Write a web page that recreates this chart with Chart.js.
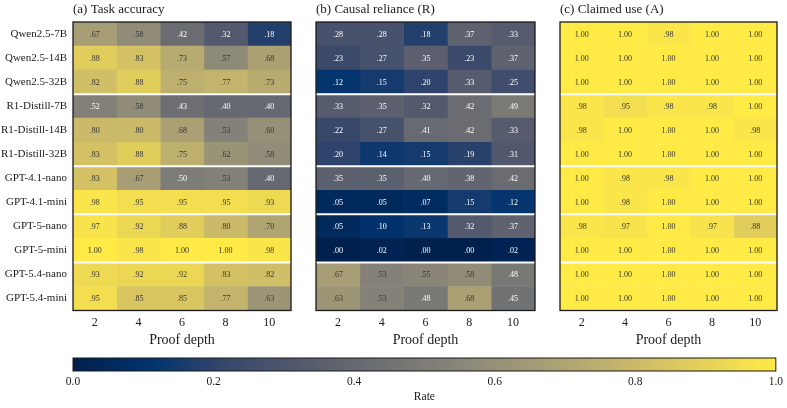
<!DOCTYPE html>
<html>
<head>
<meta charset="utf-8">
<script src="https://cdn.jsdelivr.net/npm/chart.js@4.4.1/dist/chart.umd.min.js"></script>
<style>
  html, body { margin: 0; padding: 0; background: #fff; }
  #wrap { position: relative; width: 787px; height: 408px; }
  #wrap canvas { position: absolute; left: 0; top: 0; }
</style>
</head>
<body>
<div id="wrap">
  <canvas id="accChart" width="787" height="408"></canvas>
  <canvas id="relChart" width="787" height="408"></canvas>
  <canvas id="useChart" width="787" height="408"></canvas>
  <canvas id="barChart" width="787" height="408"></canvas>
</div>
<script>
// data
const models = [
    'Qwen2.5-7B', 'Qwen2.5-14B', 'Qwen2.5-32B',
    'R1-Distill-7B', 'R1-Distill-14B', 'R1-Distill-32B',
    'GPT-4.1-nano', 'GPT-4.1-mini',
    'GPT-5-nano', 'GPT-5-mini',
    'GPT-5.4-nano', 'GPT-5.4-mini'
];
const depths = [2, 4, 6, 8, 10];
// last row index of each model family (white separator below it)
const groupEnds = [2, 5, 7, 9];

const taskAccuracy = [
    [0.67, 0.58, 0.42, 0.32, 0.18],
    [0.88, 0.83, 0.73, 0.57, 0.68],
    [0.82, 0.88, 0.75, 0.77, 0.73],
    [0.52, 0.58, 0.43, 0.40, 0.40],
    [0.80, 0.80, 0.68, 0.53, 0.60],
    [0.83, 0.88, 0.75, 0.62, 0.58],
    [0.83, 0.67, 0.50, 0.53, 0.40],
    [0.98, 0.95, 0.95, 0.95, 0.93],
    [0.97, 0.92, 0.88, 0.80, 0.70],
    [1.00, 0.98, 1.00, 1.00, 0.98],
    [0.93, 0.92, 0.92, 0.83, 0.82],
    [0.95, 0.85, 0.85, 0.77, 0.63]
];
const causalReliance = [
    [0.28, 0.28, 0.18, 0.37, 0.33],
    [0.23, 0.27, 0.35, 0.23, 0.37],
    [0.12, 0.15, 0.20, 0.33, 0.25],
    [0.33, 0.35, 0.32, 0.42, 0.49],
    [0.22, 0.27, 0.41, 0.42, 0.33],
    [0.20, 0.14, 0.15, 0.19, 0.31],
    [0.35, 0.35, 0.40, 0.38, 0.42],
    [0.05, 0.05, 0.07, 0.15, 0.12],
    [0.05, 0.10, 0.13, 0.32, 0.37],
    [0.00, 0.02, 0.00, 0.00, 0.02],
    [0.67, 0.53, 0.55, 0.58, 0.48],
    [0.63, 0.53, 0.48, 0.68, 0.45]
];
const claimedUse = [
    [1.00, 1.00, 0.98, 1.00, 1.00],
    [1.00, 1.00, 1.00, 1.00, 1.00],
    [1.00, 1.00, 1.00, 1.00, 1.00],
    [0.98, 0.95, 0.98, 0.98, 1.00],
    [0.98, 1.00, 1.00, 1.00, 0.98],
    [1.00, 1.00, 1.00, 1.00, 1.00],
    [1.00, 0.98, 0.98, 1.00, 1.00],
    [1.00, 0.98, 1.00, 1.00, 1.00],
    [0.98, 0.97, 1.00, 0.97, 0.88],
    [1.00, 1.00, 1.00, 1.00, 1.00],
    [1.00, 1.00, 1.00, 1.00, 1.00],
    [1.00, 1.00, 1.00, 1.00, 1.00]
];
const rateTicks = [0, 0.2, 0.4, 0.6, 0.8, 1.0];

const SERIF = "'Liberation Serif', 'DejaVu Serif', serif";
const INK = '#1a1a1a';

// cividis colormap stops
const cividisStops = ['#00204D', '#00336F', '#39486B', '#575C6D', '#707173',
    '#8A8779', '#A69D75', '#C4B56C', '#E4CF5B', '#FFEA46'];

function hexToRgb(h) {
    return [parseInt(h.slice(1, 3), 16), parseInt(h.slice(3, 5), 16), parseInt(h.slice(5, 7), 16)];
}

function cividis(t) {
    t = Math.max(0, Math.min(1, t));
    const pos = t * (cividisStops.length - 1);
    const i = Math.min(Math.floor(pos), cividisStops.length - 2);
    const f = pos - i;
    const a = hexToRgb(cividisStops[i]);
    const b = hexToRgb(cividisStops[i + 1]);
    const c = a.map((v, k) => Math.round(v + (b[k] - v) * f));
    return `rgb(${c[0]}, ${c[1]}, ${c[2]})`;
}

function fmt(v) {
    return v >= 1 ? '1.00' : v.toFixed(2).replace(/^0/, '');
}

// cell labels, group separators, frame and panel title
const heatmapDecor = {
    id: 'heatmapDecor',
    afterDatasetsDraw(chart, args, opts) {
        const ctx = chart.ctx;
        const area = chart.chartArea;
        const yScale = chart.scales.y;
        const values = opts.values;

        ctx.save();
        ctx.font = `8px ${SERIF}`;
        ctx.textAlign = 'center';
        ctx.textBaseline = 'middle';
        chart.data.datasets.forEach((ds, col) => {
            chart.getDatasetMeta(col).data.forEach((bar, row) => {
                const v = values[row][col];
                const p = bar.getCenterPoint();
                ctx.fillStyle = v < 0.53 ? '#ffffff' : '#333333';
                ctx.fillText(fmt(v), p.x, p.y + 0.5);
            });
        });

        ctx.strokeStyle = '#ffffff';
        ctx.lineWidth = 2;
        groupEnds.forEach(i => {
            const y = (yScale.getPixelForValue(i) + yScale.getPixelForValue(i + 1)) / 2;
            ctx.beginPath();
            ctx.moveTo(area.left, y);
            ctx.lineTo(area.right, y);
            ctx.stroke();
        });

        ctx.strokeStyle = INK;
        ctx.lineWidth = 1.3;
        ctx.strokeRect(area.left, area.top, area.right - area.left, area.bottom - area.top);

        ctx.fillStyle = INK;
        ctx.font = `13px ${SERIF}`;
        ctx.textAlign = 'left';
        ctx.textBaseline = 'middle';
        ctx.fillText(opts.title, area.left, area.top - 12);
        ctx.restore();
    }
};

function makeHeatmap(canvasId, values, title, left, right, showLabels) {
    const datasets = depths.map((d, col) => ({
        label: String(d),
        data: models.map(() => [d - 1, d + 1]),
        backgroundColor: values.map(row => cividis(row[col])),
        borderWidth: 0,
        borderSkipped: false,
        barPercentage: 1.0,
        categoryPercentage: 1.0,
        grouped: false
    }));

    new Chart(document.getElementById(canvasId), {
        type: 'bar',
        data: { labels: models, datasets: datasets },
        options: {
            indexAxis: 'y',
            responsive: false,
            animation: false,
            events: [],
            layout: {
                padding: { left: showLabels ? 0 : left, right: 787 - right, top: 22, bottom: 59 }
            },
            scales: {
                x: {
                    type: 'linear',
                    min: 1,
                    max: 11,
                    afterBuildTicks: scale => { scale.ticks = depths.map(v => ({ value: v })); },
                    afterFit: scale => { scale.height = 38.5; },
                    grid: { display: false, drawTicks: false },
                    border: { display: false },
                    ticks: { color: INK, font: { family: SERIF, size: 12 }, padding: 5 },
                    title: { display: true, text: 'Proof depth', color: INK, font: { family: SERIF, size: 14 }, padding: 0 }
                },
                y: {
                    afterFit: scale => { if (showLabels) scale.width = left; },
                    grid: { display: false, drawTicks: false },
                    border: { display: false },
                    ticks: { display: showLabels, color: INK, font: { family: SERIF, size: 11 }, padding: 6 }
                }
            },
            plugins: {
                legend: { display: false },
                tooltip: { enabled: false },
                heatmapDecor: { values: values, title: title }
            }
        },
        plugins: [heatmapDecor]
    });
}

makeHeatmap('accChart', taskAccuracy, '(a) Task accuracy', 73, 291, true);
makeHeatmap('relChart', causalReliance, '(b) Causal reliance (R)', 316, 535, false);
makeHeatmap('useChart', claimedUse, '(c) Claimed use (A)', 560, 777, false);

// colour bar
const colorBarFill = {
    id: 'colorBarFill',
    beforeDatasetsDraw(chart) {
        const ctx = chart.ctx;
        const a = chart.chartArea;
        const g = ctx.createLinearGradient(a.left, 0, a.right, 0);
        cividisStops.forEach((c, i) => g.addColorStop(i / (cividisStops.length - 1), c));
        ctx.save();
        ctx.fillStyle = g;
        ctx.fillRect(a.left, a.top, a.right - a.left, a.bottom - a.top);
        ctx.strokeStyle = INK;
        ctx.lineWidth = 1;
        ctx.strokeRect(a.left, a.top, a.right - a.left, a.bottom - a.top);
        ctx.restore();
    }
};

new Chart(document.getElementById('barChart'), {
    type: 'scatter',
    data: { datasets: [{ data: [] }] },
    options: {
        responsive: false,
        animation: false,
        events: [],
        layout: { padding: { left: 73, right: 10, top: 358, bottom: 4 } },
        scales: {
            x: {
                type: 'linear',
                min: 0,
                max: 1,
                afterBuildTicks: scale => { scale.ticks = rateTicks.map(v => ({ value: v })); },
                afterFit: scale => { scale.height = 33; },
                grid: { display: false, drawTicks: false },
                border: { display: false },
                ticks: { color: INK, font: { family: SERIF, size: 11.5 }, padding: 4, callback: v => v.toFixed(1) },
                title: { display: true, text: 'Rate', color: INK, font: { family: SERIF, size: 11.5 }, padding: 0 }
            },
            y: { display: false, min: 0, max: 1 }
        },
        plugins: { legend: { display: false }, tooltip: { enabled: false } }
    },
    plugins: [colorBarFill]
});
</script>
</body>
</html>
